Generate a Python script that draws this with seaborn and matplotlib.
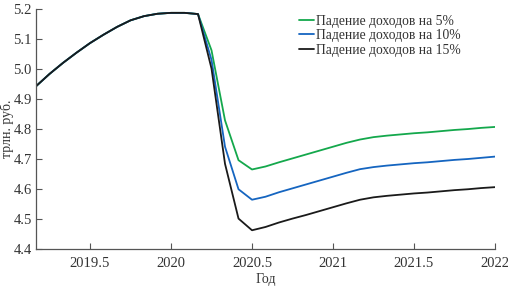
import numpy as np
import pandas as pd
import matplotlib
matplotlib.use("Agg")
import matplotlib.pyplot as plt
import seaborn as sns

# monthly time axis (years)
years = [2019 + 2/12 + k/12 for k in range(35)]

common = [4.942, 4.983, 5.020, 5.054, 5.086, 5.114, 5.140, 5.162, 5.176,
          5.184, 5.187, 5.187, 5.183]

drop5 = [5.062, 4.828, 4.695, 4.664, 4.674, 4.688, 4.701, 4.714, 4.727,
         4.740, 4.753, 4.764, 4.772, 4.777, 4.781, 4.785, 4.788, 4.792,
         4.796, 4.799, 4.803, 4.806]
drop10 = [5.030, 4.740, 4.598, 4.563, 4.573, 4.588, 4.601, 4.614, 4.627,
          4.640, 4.653, 4.665, 4.672, 4.677, 4.681, 4.685, 4.688, 4.692,
          4.696, 4.699, 4.703, 4.707]
drop15 = [5.001, 4.683, 4.500, 4.461, 4.472, 4.487, 4.500, 4.512, 4.525,
          4.538, 4.551, 4.563, 4.571, 4.576, 4.580, 4.584, 4.587, 4.591,
          4.595, 4.598, 4.602, 4.605]

labels = ["Падение доходов на 5%", "Падение доходов на 10%", "Падение доходов на 15%"]
colors = ["#14a84c", "#1565c0", "#1a1a1a"]

sns.set_style("ticks")
plt.rcParams['font.family'] = ['Liberation Serif', 'DejaVu Serif']
plt.rcParams['font.size'] = 10

rows = []
for lab, tail in zip(labels, [drop5, drop10, drop15]):
    vals = common + tail
    for t, v in zip(years, vals):
        rows.append({"year": t, "value": v, "series": lab})
df = pd.DataFrame(rows)

fig = plt.figure(figsize=(5.08, 2.89), dpi=100)
ax = fig.add_axes([0.0709, 0.140, 0.9035, 0.829])

sns.lineplot(data=df, x="year", y="value", hue="series", hue_order=labels,
             palette=colors, linewidth=1.3, ax=ax, legend=True)

ax.set_xlim(years[0], 2022.0)
ax.set_ylim(4.4, 5.2)
ax.set_xticks([2019.5, 2020, 2020.5, 2021, 2021.5, 2022])
ax.set_xticklabels(["2019.5", "2020", "2020.5", "2021", "2021.5", "2022"])
ax.set_yticks([4.4, 4.5, 4.6, 4.7, 4.8, 4.9, 5.0, 5.1, 5.2])
ax.set_yticklabels([f"{v:.1f}" for v in [4.4, 4.5, 4.6, 4.7, 4.8, 4.9, 5.0, 5.1, 5.2]])
ax.tick_params(direction="in", length=4, width=0.8, colors="#555555",
               labelcolor="#333333", labelsize=10.5)
ax.tick_params(axis="x", pad=6)
ax.tick_params(axis="y", pad=3)
for s in ["top", "right"]:
    ax.spines[s].set_visible(False)
for s in ["left", "bottom"]:
    ax.spines[s].set_color("#555555")
    ax.spines[s].set_linewidth(0.9)

ax.set_xlabel("Год", fontsize=10, color="#333333")
ax.xaxis.set_label_coords(0.5, -0.102)
ax.set_ylabel("трлн. руб.", fontsize=10, color="#333333")
ax.yaxis.set_label_coords(-0.047, 0.5)

leg = ax.legend(loc="upper left", bbox_to_anchor=(0.552, 1.015), frameon=False,
                handlelength=1.1, handletextpad=0.15, labelspacing=0.1,
                fontsize=9.8, borderpad=0.2)
for t in leg.get_texts():
    t.set_color("#333333")

fig.savefig("out.png", dpi=100)
